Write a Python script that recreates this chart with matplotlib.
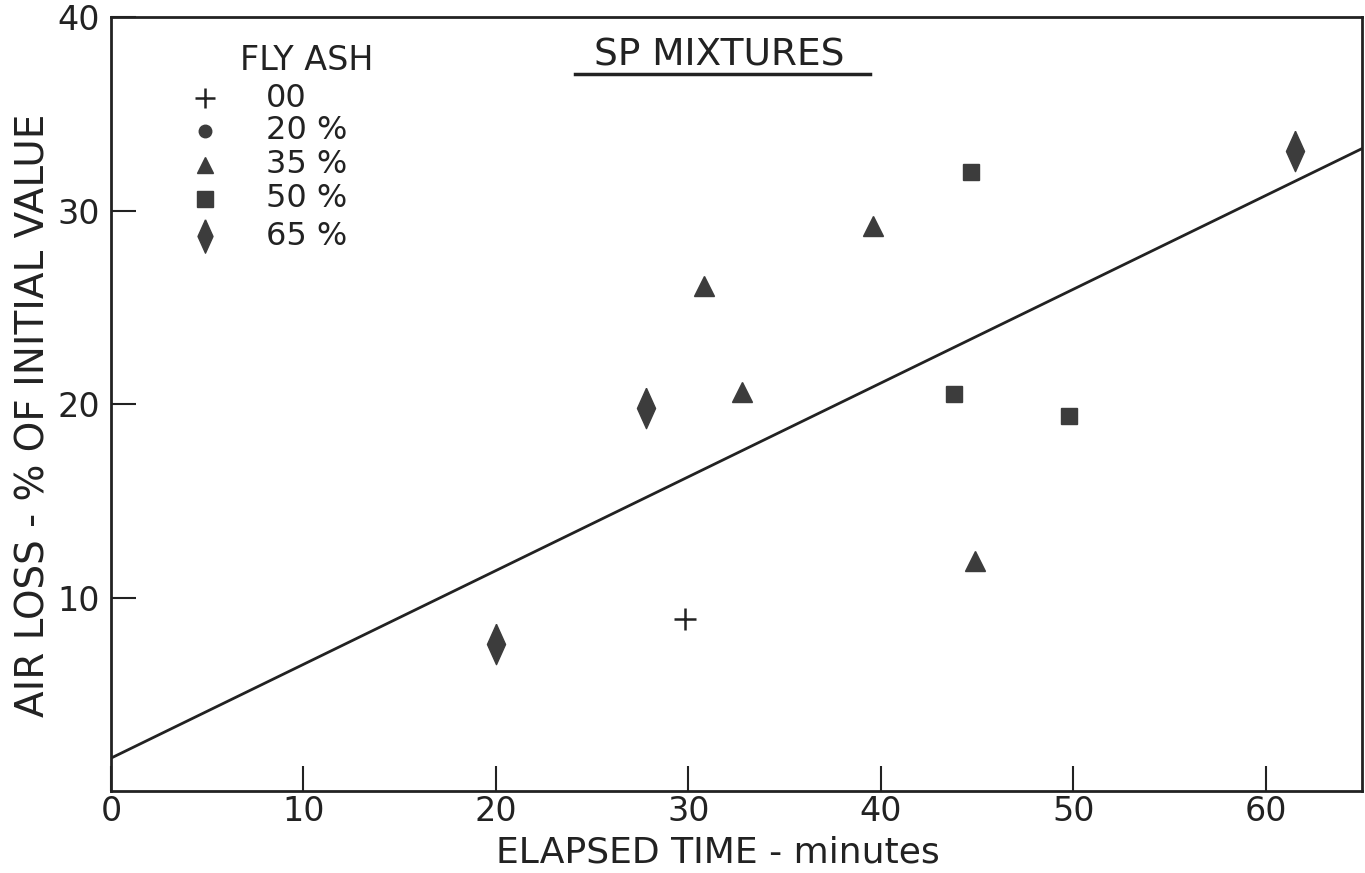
import matplotlib.pyplot as plt

# fly ash groups
plain_x = [29.8]
plain_y = [8.9]
tri_x = [30.8, 32.8, 39.6, 44.9]
tri_y = [26.1, 20.6, 29.2, 11.9]
sq_x = [44.7, 43.8, 49.8]
sq_y = [32.0, 20.5, 19.4]
dia_x = [20.0, 27.8, 61.5]
dia_y = [7.6, 19.8, 33.1]

# regression line end points
line_x = [0, 65]
line_y = [1.7, 33.2]

x_ticks = [0, 10, 20, 30, 40, 50, 60]
y_ticks = [10, 20, 30, 40]
legend_labels = ['00', '20 %', '35 %', '50 %', '65 %']

plt.rcParams['font.family'] = ['DejaVu Sans']
ink = '#222222'
mark = '#3c3c3c'
# tall narrow diamond like the stencil one
thin_dia = [(0, 1), (0.45, 0), (0, -1), (-0.45, 0), (0, 1)]

fig = plt.figure(figsize=(13.65, 8.73), dpi=100)
ax = fig.add_axes([0.0813, 0.0939, 0.9165, 0.8866])
ax.set_xlim(0, 65)
ax.set_ylim(0, 40)

ax.plot(line_x, line_y, color=ink, lw=2)
ax.plot(plain_x, plain_y, ls='none', marker='+', ms=16, mew=1.8, color=ink)
ax.plot(tri_x, tri_y, ls='none', marker='^', ms=14, color=mark)
ax.plot(sq_x, sq_y, ls='none', marker='s', ms=12, color=mark)
ax.plot(dia_x, dia_y, ls='none', marker=thin_dia, ms=29, color=mark)

for sp in ax.spines.values():
  sp.set_linewidth(2)
  sp.set_color(ink)

ax.set_xticks(x_ticks)
ax.set_yticks(y_ticks)
ax.tick_params(direction='in', length=18, width=1.5, color=ink, labelsize=24, labelcolor=ink)
ax.tick_params(axis='x', pad=3)
ax.tick_params(axis='y', pad=8)

ax.set_xlabel('ELAPSED TIME - minutes', fontsize=26, color=ink, va='center')
ax.xaxis.set_label_coords(0.485, -0.079)
ax.set_ylabel('AIR LOSS - % OF INITIAL VALUE', fontsize=28, color=ink, va='center')
ax.yaxis.set_label_coords(-0.062, 0.486)

# hand lettered key
tr = ax.transAxes
ax.text(0.103, 0.944, 'FLY ASH', transform=tr, fontsize=24, color=ink, va='center', ha='left')
key_y = [0.895, 0.853, 0.809, 0.765, 0.717]
key_style = [dict(marker='+', ms=14, mew=1.8, color=ink),
             dict(marker='o', ms=9, color=mark),
             dict(marker='^', ms=11, color=mark),
             dict(marker='s', ms=11, color=mark),
             dict(marker=thin_dia, ms=24, color=mark)]
for yy, lab, st in zip(key_y, legend_labels, key_style):
  ax.plot([0.075], [yy], transform=tr, ls='none', **st)
  ax.text(0.124, yy, lab, transform=tr, fontsize=23, color=ink, va='center', ha='left')

ax.text(0.486, 0.95, 'SP MIXTURES', transform=tr, fontsize=27, color=ink, va='center', ha='center')
ax.plot([0.371, 0.607], [0.927, 0.927], transform=tr, color=ink, lw=2.5)

fig.savefig('out.png', dpi=100, facecolor='white')
